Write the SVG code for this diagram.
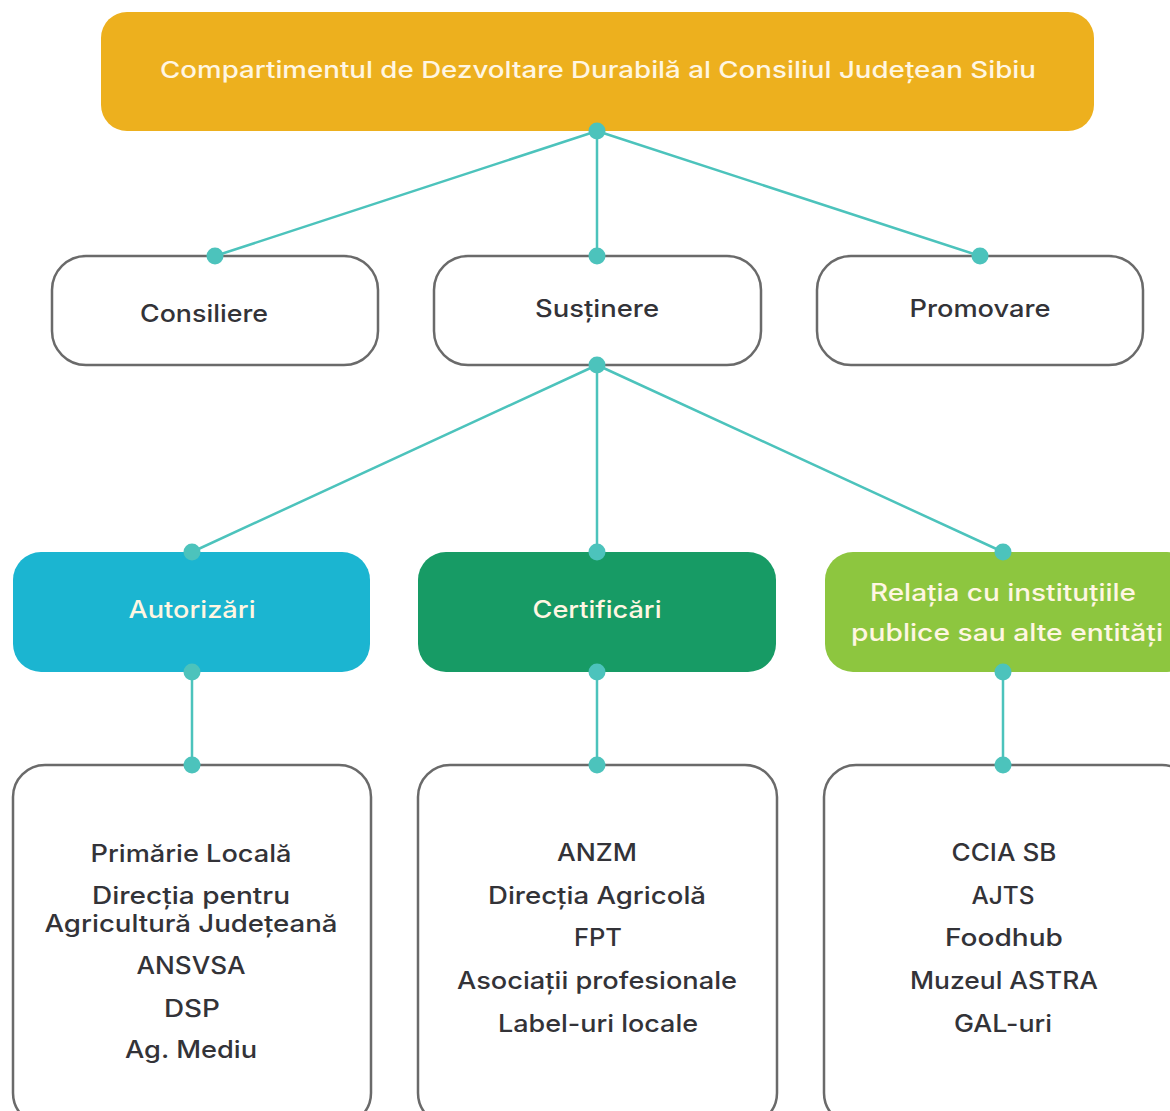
<svg xmlns="http://www.w3.org/2000/svg" width="1170" height="1111" viewBox="0 0 1170 1111">
  <style>
    .lbl { font-family: Inter, "Noto Sans", "Liberation Sans", sans-serif; font-weight: 500; text-anchor: middle; font-size: 24px; }
    .dark { fill: #333338; }
    .light { fill: #FFF6E2; }
    .outline { fill: #FFFFFF; stroke: #6A6A6A; stroke-width: 2.5; }
    .link { stroke: #4CC3BC; stroke-width: 2.5; fill: none; }
    .dot { fill: #4CC3BC; }
  </style>
  <rect width="1170" height="1111" fill="#FFFFFF"/>

  <!-- boxes -->
  <g id="root">
    <rect x="101" y="12" width="993" height="119" rx="26" fill="#EDB01E"/>
    <text class="lbl light" x="598" y="78" style="font-size:23px" textLength="876" lengthAdjust="spacingAndGlyphs">Compartimentul de Dezvoltare Durabilă al Consiliul Județean Sibiu</text>
  </g>
  <g id="consiliere">
    <rect class="outline" x="52" y="256" width="326" height="109" rx="34"/>
    <text class="lbl dark" x="204" y="322" textLength="128" lengthAdjust="spacingAndGlyphs">Consiliere</text>
  </g>
  <g id="sustinere">
    <rect class="outline" x="434" y="256" width="327" height="109" rx="34"/>
    <text class="lbl dark" x="597" y="317" textLength="124" lengthAdjust="spacingAndGlyphs">Susținere</text>
  </g>
  <g id="promovare">
    <rect class="outline" x="817" y="256" width="326" height="109" rx="34"/>
    <text class="lbl dark" x="980" y="317" textLength="141" lengthAdjust="spacingAndGlyphs">Promovare</text>
  </g>
  <g id="autorizari">
    <rect x="13" y="552" width="357" height="120" rx="28" fill="#1BB5D1"/>
    <text class="lbl light" x="192" y="618" textLength="127" lengthAdjust="spacingAndGlyphs">Autorizări</text>
  </g>
  <g id="certificari">
    <rect x="418" y="552" width="358" height="120" rx="28" fill="#179B65"/>
    <text class="lbl light" x="597" y="618" textLength="129" lengthAdjust="spacingAndGlyphs">Certificări</text>
  </g>
  <g id="relatia">
    <rect x="825" y="552" width="370" height="120" rx="28" fill="#8DC63F"/>
    <text class="lbl light" x="1003" y="601" textLength="266" lengthAdjust="spacingAndGlyphs">Relația cu instituțiile</text>
    <text class="lbl light" x="1007" y="641" textLength="312" lengthAdjust="spacingAndGlyphs">publice sau alte entități</text>
  </g>
  <g id="lista-autorizari">
    <rect class="outline" x="13" y="765" width="358" height="360" rx="32"/>
    <text class="lbl dark" x="191" y="862" textLength="201" lengthAdjust="spacingAndGlyphs">Primărie Locală</text>
    <text class="lbl dark" x="191" y="904" textLength="198" lengthAdjust="spacingAndGlyphs">Direcția pentru</text>
    <text class="lbl dark" x="191" y="932" textLength="293" lengthAdjust="spacingAndGlyphs">Agricultură Județeană</text>
    <text class="lbl dark" x="191" y="974" textLength="109" lengthAdjust="spacingAndGlyphs">ANSVSA</text>
    <text class="lbl dark" x="192" y="1017" textLength="56" lengthAdjust="spacingAndGlyphs">DSP</text>
    <text class="lbl dark" x="191" y="1058" textLength="132" lengthAdjust="spacingAndGlyphs">Ag. Mediu</text>
  </g>
  <g id="lista-certificari">
    <rect class="outline" x="418" y="765" width="359" height="360" rx="32"/>
    <text class="lbl dark" x="597" y="861" textLength="80" lengthAdjust="spacingAndGlyphs">ANZM</text>
    <text class="lbl dark" x="597" y="904" textLength="218" lengthAdjust="spacingAndGlyphs">Direcția Agricolă</text>
    <text class="lbl dark" x="598" y="946" textLength="48" lengthAdjust="spacingAndGlyphs">FPT</text>
    <text class="lbl dark" x="597" y="989" textLength="280" lengthAdjust="spacingAndGlyphs">Asociații profesionale</text>
    <text class="lbl dark" x="598" y="1032" textLength="200" lengthAdjust="spacingAndGlyphs">Label-uri locale</text>
  </g>
  <g id="lista-relatia">
    <rect class="outline" x="824" y="765" width="370" height="360" rx="32"/>
    <text class="lbl dark" x="1004" y="861" textLength="105" lengthAdjust="spacingAndGlyphs">CCIA SB</text>
    <text class="lbl dark" x="1003" y="904" textLength="63" lengthAdjust="spacingAndGlyphs">AJTS</text>
    <text class="lbl dark" x="1004" y="946" textLength="118" lengthAdjust="spacingAndGlyphs">Foodhub</text>
    <text class="lbl dark" x="1004" y="989" textLength="188" lengthAdjust="spacingAndGlyphs">Muzeul ASTRA</text>
    <text class="lbl dark" x="1003" y="1032" textLength="98" lengthAdjust="spacingAndGlyphs">GAL-uri</text>
  </g>

  <!-- connectors with end dots -->
  <g id="connectors">
    <path class="link" d="M597 131 L215 256 M597 131 L597 256 M597 131 L980 256"/>
    <path class="link" d="M597 365 L192 552 M597 365 L597 552 M597 365 L1003 552"/>
    <path class="link" d="M192 672 L192 765 M597 672 L597 765 M1003 672 L1003 765"/>
    <circle class="dot" cx="597" cy="131" r="8.5"/>
    <circle class="dot" cx="215" cy="256" r="8.5"/>
    <circle class="dot" cx="597" cy="256" r="8.5"/>
    <circle class="dot" cx="980" cy="256" r="8.5"/>
    <circle class="dot" cx="597" cy="365" r="8.5"/>
    <circle class="dot" cx="192" cy="552" r="8.5"/>
    <circle class="dot" cx="597" cy="552" r="8.5"/>
    <circle class="dot" cx="1003" cy="552" r="8.5"/>
    <circle class="dot" cx="192" cy="672" r="8.5"/>
    <circle class="dot" cx="597" cy="672" r="8.5"/>
    <circle class="dot" cx="1003" cy="672" r="8.5"/>
    <circle class="dot" cx="192" cy="765" r="8.5"/>
    <circle class="dot" cx="597" cy="765" r="8.5"/>
    <circle class="dot" cx="1003" cy="765" r="8.5"/>
  </g>
</svg>
